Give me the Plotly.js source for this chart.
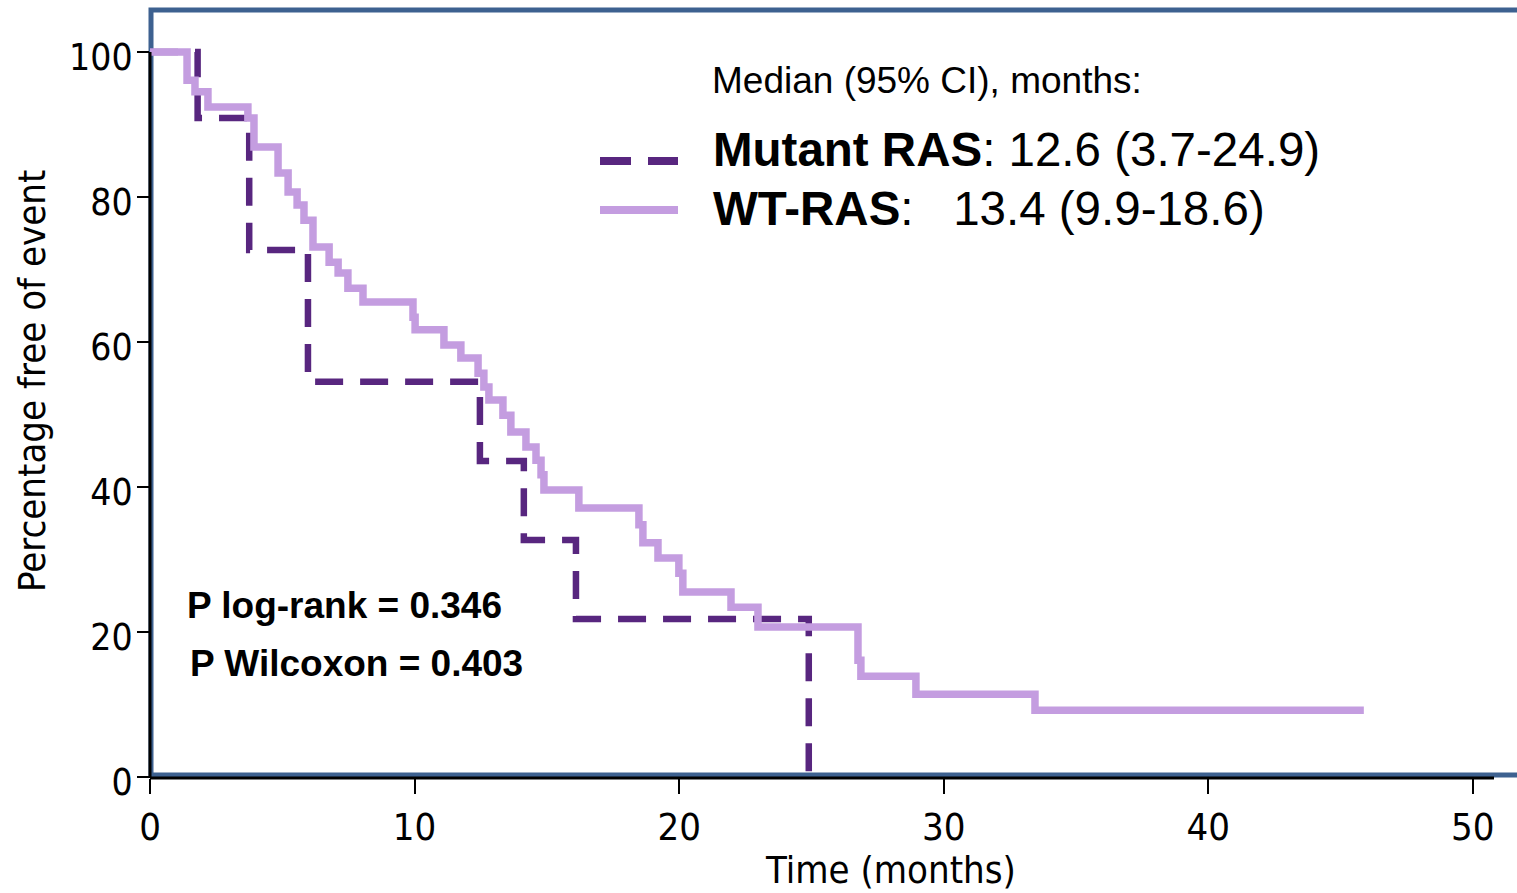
<!DOCTYPE html>
<html>
<head>
<meta charset="utf-8">
<script src="https://cdn.plot.ly/plotly-3.0.1.min.js"></script>
<style>html,body{margin:0;padding:0;background:#fff;}#chart{width:1517px;height:893px;}</style>
</head>
<body>
<div id="chart"></div>
<script>
// ---- data ----
const mutantTime = [0, 1.8, 3.75, 5.97, 12.47, 14.13, 16.1, 24.9];
const mutantSurv = [100, 90.9, 72.7, 54.5, 43.6, 32.7, 21.8, 0];

const wtTime = [0, 1.40, 1.70, 2.19, 3.70, 3.93, 4.84, 5.22, 5.56, 5.82, 6.16, 6.77, 7.11, 7.48, 8.05,
  9.94, 10.02, 11.11, 11.75, 12.40, 12.62, 12.81, 13.34, 13.64, 14.21, 14.59, 14.78, 14.89, 16.21,
  18.48, 18.63, 19.20, 19.99, 20.14, 21.96, 22.98, 26.76, 26.87, 28.95, 33.45, 45.88];
const wtSurv = [100, 96.1, 94.5, 92.4, 90.9, 86.9, 83.3, 80.7, 78.9, 76.8, 73.1, 71.0, 69.5, 67.4, 65.5,
  63.4, 61.7, 59.6, 57.8, 55.7, 53.8, 52.0, 49.9, 47.6, 45.5, 43.7, 41.7, 39.6, 37.1,
  34.8, 32.3, 30.2, 28.1, 25.5, 23.4, 20.7, 16.1, 13.9, 11.4, 9.2, 9.2];

const xTickVals = [0, 10, 20, 30, 40, 50];
const yTickVals = [0, 20, 40, 60, 80, 100];

const seriesNames = ['Mutant RAS', 'WT-RAS'];
const medianText = ['12.6 (3.7-24.9)', '13.4 (9.9-18.6)'];
const pTexts = ['P log-rank = 0.346', 'P Wilcoxon = 0.403'];

// ---- styles ----
const DARK = '#58267f';
const LIGHT = '#c49de0';
const FRAME = '#3d6190';
const NARROW = '"Liberation Sans Narrow", "DejaVu Sans Condensed", "Liberation Sans", Arial, sans-serif';
const SANS = '"Liberation Sans", Arial, sans-serif';

const W = 1517, H = 893;
const M = {l: 150, r: 23, t: 10, b: 115};
const PW = W - M.l - M.r, PH = H - M.t - M.b;
const px = v => (v - M.l) / PW;
const py = v => (H - M.b - v) / PH;

const traces = [
  {x: mutantTime, y: mutantSurv, name: seriesNames[0], type: 'scatter', mode: 'lines',
   line: {shape: 'hv', color: DARK, width: 6.5, dash: '28px,17px'}, hoverinfo: 'x+y'},
  {x: wtTime, y: wtSurv, name: seriesNames[1], type: 'scatter', mode: 'lines',
   line: {shape: 'hv', color: LIGHT, width: 7.5}, hoverinfo: 'x+y'}
];

const layout = {
  width: W, height: H,
  margin: M,
  paper_bgcolor: '#ffffff',
  plot_bgcolor: 'rgba(0,0,0,0)',
  showlegend: false,
  xaxis: {
    range: [0, 50.8], tickvals: xTickVals, ticks: 'outside', ticklen: 15, tickwidth: 2, tickcolor: '#000',
    showgrid: false, zeroline: false, showline: false,
    tickfont: {family: NARROW, size: 38, color: '#000'}
  },
  yaxis: {
    range: [-0.14, 105.79], tickvals: yTickVals, ticks: 'outside', ticklen: 12, tickwidth: 2, tickcolor: '#000',
    showgrid: false, zeroline: false, showline: false, ticklabelstandoff: -3, ticklabelshift: 5,
    tickfont: {family: NARROW, size: 37, color: '#000'}
  },
  shapes: [
    {type: 'rect', xref: 'paper', yref: 'paper', x0: px(151), x1: 1.1, y0: py(775), y1: py(10),
     line: {color: FRAME, width: 5}, fillcolor: 'rgba(0,0,0,0)', layer: 'below'},
    {type: 'line', xref: 'x', yref: 'paper', x0: 0, x1: 50.8, y0: 0, y1: 0,
     line: {color: '#000', width: 3}, layer: 'above'},
    {type: 'line', xref: 'paper', yref: 'y', x0: 0, x1: 0, y0: -0.14, y1: 100,
     line: {color: '#000', width: 3}, layer: 'above'},
    // key samples
    {type: 'line', xref: 'paper', yref: 'paper', x0: px(600), x1: px(678), y0: py(161), y1: py(161),
     line: {color: DARK, width: 8, dash: '31px,17px'}},
    {type: 'line', xref: 'paper', yref: 'paper', x0: px(600), x1: px(678), y0: py(210), y1: py(210),
     line: {color: LIGHT, width: 8}}
  ],
  annotations: [
    {text: 'Median (95% CI), months:', xref: 'paper', yref: 'paper', x: px(710), y: py(80),
     xanchor: 'left', yanchor: 'middle', showarrow: false, font: {family: SANS, size: 37, color: '#000'}},
    {text: '<b>' + seriesNames[0] + '</b>: ' + medianText[0], xref: 'paper', yref: 'paper', x: px(711), y: py(149),
     xanchor: 'left', yanchor: 'middle', showarrow: false, font: {family: SANS, size: 47.5, color: '#000'}},
    {text: '<b>' + seriesNames[1] + '</b>:\u00a0\u00a0\u00a0' + medianText[1], xref: 'paper', yref: 'paper', x: px(711), y: py(208),
     xanchor: 'left', yanchor: 'middle', showarrow: false, font: {family: SANS, size: 47.5, color: '#000'}},
    {text: '<b>' + pTexts[0] + '</b>', xref: 'paper', yref: 'paper', x: px(185), y: py(605),
     xanchor: 'left', yanchor: 'middle', showarrow: false, font: {family: SANS, size: 37, color: '#000'}},
    {text: '<b>' + pTexts[1] + '</b>', xref: 'paper', yref: 'paper', x: px(188), y: py(663),
     xanchor: 'left', yanchor: 'middle', showarrow: false, font: {family: SANS, size: 37, color: '#000'}},
    {text: 'Time (months)', xref: 'paper', yref: 'paper', x: px(890), y: py(870),
     xanchor: 'center', yanchor: 'middle', showarrow: false, font: {family: NARROW, size: 38, color: '#000'}},
    {text: 'Percentage free of event', xref: 'paper', yref: 'paper', x: px(32), y: py(381), textangle: -90,
     xanchor: 'center', yanchor: 'middle', showarrow: false, font: {family: NARROW, size: 38, color: '#000'}}
  ]
};

Plotly.newPlot('chart', traces, layout, {displayModeBar: false, staticPlot: true});
</script>
</body>
</html>
